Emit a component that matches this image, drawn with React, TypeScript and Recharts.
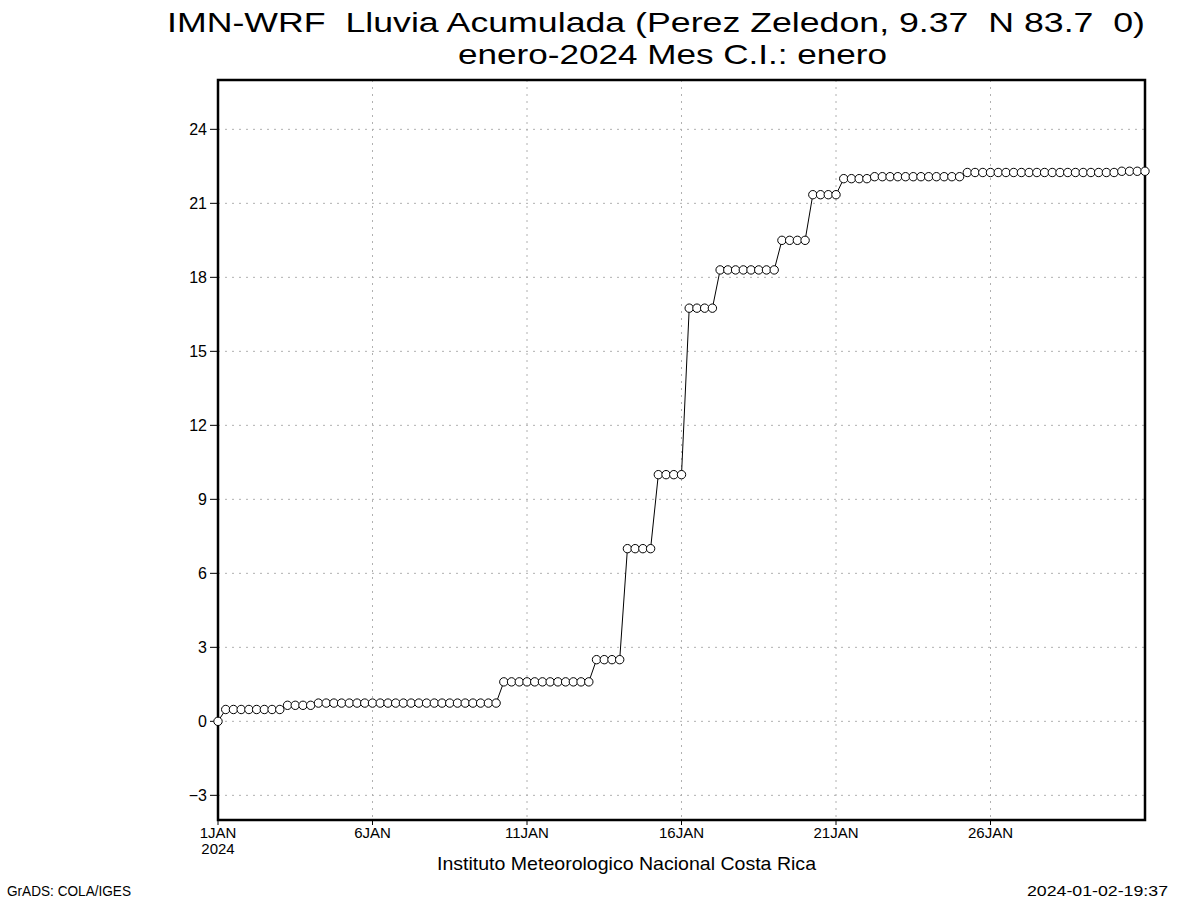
import { LineChart, Line, XAxis, YAxis, CartesianGrid, ReferenceArea } from 'recharts';

// accumulated rain (mm), one value every 6 h from 1JAN 00Z to 31JAN 00Z
const rain = [
  0,
  0.48, 0.48, 0.48, 0.48, 0.48, 0.48, 0.48, 0.48,
  0.65, 0.65, 0.65, 0.65,
  0.74, 0.74, 0.74, 0.74, 0.74, 0.74, 0.74, 0.74, 0.74, 0.74, 0.74, 0.74,
  0.74, 0.74, 0.74, 0.74, 0.74, 0.74, 0.74, 0.74, 0.74, 0.74, 0.74, 0.74,
  1.6, 1.6, 1.6, 1.6, 1.6, 1.6, 1.6, 1.6, 1.6, 1.6, 1.6, 1.6,
  2.5, 2.5, 2.5, 2.5,
  7.0, 7.0, 7.0, 7.0,
  10.0, 10.0, 10.0, 10.0,
  16.75, 16.75, 16.75, 16.75,
  18.3, 18.3, 18.3, 18.3, 18.3, 18.3, 18.3, 18.3,
  19.5, 19.5, 19.5, 19.5,
  21.35, 21.35, 21.35, 21.35,
  22.0, 22.0, 22.0, 22.0,
  22.08, 22.08, 22.08, 22.08, 22.08, 22.08, 22.08, 22.08, 22.08, 22.08, 22.08, 22.08,
  22.25, 22.25, 22.25, 22.25, 22.25, 22.25, 22.25, 22.25, 22.25, 22.25,
  22.25, 22.25, 22.25, 22.25, 22.25, 22.25, 22.25, 22.25, 22.25, 22.25,
  22.3, 22.3, 22.3, 22.3,
];

const xTicks = [0, 20, 40, 60, 80, 100];
const xTickLabels = ['1JAN', '6JAN', '11JAN', '16JAN', '21JAN', '26JAN'];
const yTicks = [-3, 0, 3, 6, 9, 12, 15, 18, 21, 24];

const title1 = 'IMN-WRF  Lluvia Acumulada (Perez Zeledon, 9.37  N 83.7  0)';
const title2 = 'enero-2024 Mes C.I.: enero';
const footer = 'Instituto Meteorologico Nacional Costa Rica';

const data = rain.map((v, i) => ({ t: i, rain: v }));

const font = '"Liberation Sans", Arial, sans-serif';

const XTick = ({ x, y, payload }: any) => {
  const idx = xTicks.indexOf(payload.value);
  const label = xTickLabels[idx] ?? '';
  return (
    <g>
      <text x={x} y={y + 11} textAnchor="middle" fontSize={15} fontFamily={font} fill="#000">
        {label}
      </text>
      {idx === 0 && (
        <text x={x} y={y + 27} textAnchor="middle" fontSize={15} fontFamily={font} fill="#000">
          2024
        </text>
      )}
    </g>
  );
};

export default function App() {
  return (
    <div style={{ position: 'absolute', left: 0, top: 0, width: 1200, height: 900, background: '#fff' }}>
      <LineChart
        width={1200}
        height={900}
        data={data}
        margin={{ top: 80, right: 55, bottom: 50, left: 158 }}
      >
        <CartesianGrid stroke="#b0b0b0" strokeDasharray="2 5" />
        <XAxis
          dataKey="t"
          type="number"
          domain={[0, 120]}
          ticks={xTicks}
          height={30}
          tick={<XTick />}
          tickSize={5}
          tickMargin={2}
          axisLine={false}
          tickLine={{ stroke: '#000' }}
        />
        <YAxis
          type="number"
          domain={[-4, 26]}
          ticks={yTicks}
          width={60}
          tickSize={8}
          tickMargin={3}
          axisLine={false}
          tickLine={{ stroke: '#000' }}
          tickFormatter={(v: number) => (v < 0 ? '\u2212' + Math.abs(v) : String(v))}
          tick={{ fill: '#000', fontSize: 16, fontFamily: font }}
        />
        <ReferenceArea x1={0} x2={120} y1={-4} y2={26} fill="none" stroke="#000" strokeWidth={2.5} ifOverflow="visible" />
        <Line
          type="linear"
          dataKey="rain"
          stroke="#000"
          strokeWidth={1}
          dot={{ r: 4.2, fill: '#fff', stroke: '#000', strokeWidth: 1 }}
          isAnimationActive={false}
        />
      </LineChart>
      <svg
        width={1200}
        height={900}
        style={{ position: 'absolute', left: 0, top: 0, pointerEvents: 'none' }}
        fontFamily={font}
      >
        <text x={167} y={32} fontSize={28} textLength={978} lengthAdjust="spacingAndGlyphs" style={{ whiteSpace: 'pre' }}>
          {title1}
        </text>
        <text x={458} y={64} fontSize={28} textLength={429} lengthAdjust="spacingAndGlyphs" style={{ whiteSpace: 'pre' }}>
          {title2}
        </text>
        <text x={437} y={870} fontSize={19} textLength={379} lengthAdjust="spacingAndGlyphs">
          {footer}
        </text>
        <text x={7} y={896} fontSize={15} textLength={124} lengthAdjust="spacingAndGlyphs">
          GrADS: COLA/IGES
        </text>
        <text x={1027} y={896} fontSize={15} textLength={141} lengthAdjust="spacingAndGlyphs">
          2024-01-02-19:37
        </text>
      </svg>
    </div>
  );
}
